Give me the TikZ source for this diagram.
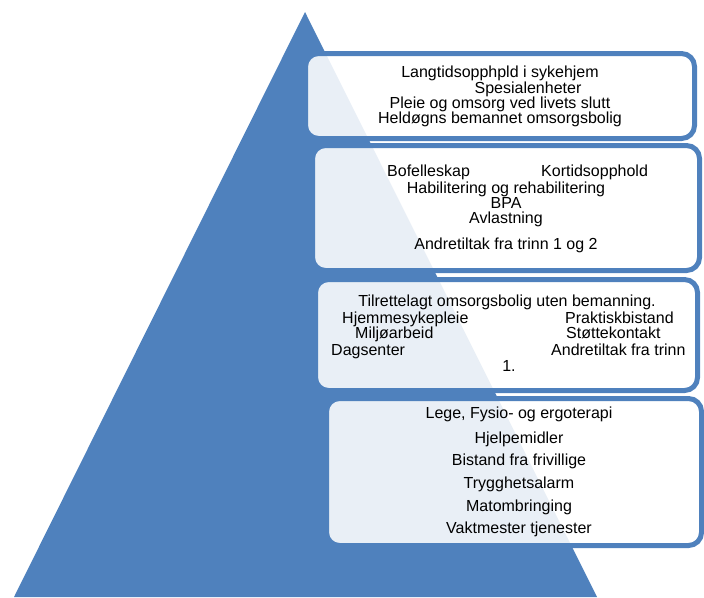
\documentclass[tikz,border=0pt]{standalone}
\usepackage{fontspec}
\setmainfont{Liberation Sans}
\usetikzlibrary{positioning}
\definecolor{pyrblue}{HTML}{4F81BD}
\tikzset{
  tier/.style={draw=pyrblue,line width=5pt,rounded corners=13pt,fill=white,fill opacity=0.88},
  item/.style={anchor=base,inner sep=0pt,font=\fontsize{16}{16}\selectfont},
  itemleft/.style={item,anchor=base west}
}
\begin{document}
\begin{tikzpicture}[x=1pt,y=-1pt]
  \useasboundingbox (0,0) rectangle (704,597);
  \fill[pyrblue] (305,12) -- (597,597) -- (14,597) -- cycle;
  \node[tier,minimum width=389pt,minimum height=85pt] (tier1) at (500,96) {};
  \node[tier,minimum width=387pt,minimum height=125pt] (tier2) at (506,208) {};
  \node[tier,minimum width=382pt,minimum height=111pt] (tier3) at (506.5,335) {};
  \node[tier,minimum width=375pt,minimum height=147pt] (tier4) at (514,472) {};
  \foreach \x/\y/\txt [count=\i] in {500/77/Langtidsopphpld i sykehjem,528/93/Spesialenheter,
      500/108/Pleie og omsorg ved livets slutt,500/123/Heldøgns bemannet omsorgsbolig}
    \node[item] (t1-\i) at (\x,\y) {\txt};
  \node[itemleft] (t2-a) at (387,176) {Bofelleskap};
  \node[itemleft] (t2-b) at (541,176) {Kortidsopphold};
  \foreach \y/\txt [count=\i] in {193/Habilitering og rehabilitering,208/BPA,223/Avlastning,249/Andretiltak fra trinn 1 og 2}
    \node[item] (t2-\i) at (506,\y) {\txt};
  \node[item] (t3-0) at (507,306) {Tilrettelagt omsorgsbolig uten bemanning.};
  \foreach \x/\y/\txt [count=\i] in {342/323/Hjemmesykepleie,565/323/Praktiskbistand,355/338/Miljøarbeid,
      566/338/Støttekontakt,331/355/Dagsenter,551/355/Andretiltak fra trinn}
    \node[itemleft] (t3-\i) at (\x,\y) {\txt};
  \node[item] (t3-7) at (509,371) {1.};
  \foreach \y/\txt [count=\i] in {418/{Lege, Fysio- og ergoterapi},443/Hjelpemidler,465/Bistand fra frivillige,
      488/Trygghetsalarm,511/Matombringing,533/Vaktmester tjenester}
    \node[item] (t4-\i) at (519,\y) {\txt};
\end{tikzpicture}
\end{document}
